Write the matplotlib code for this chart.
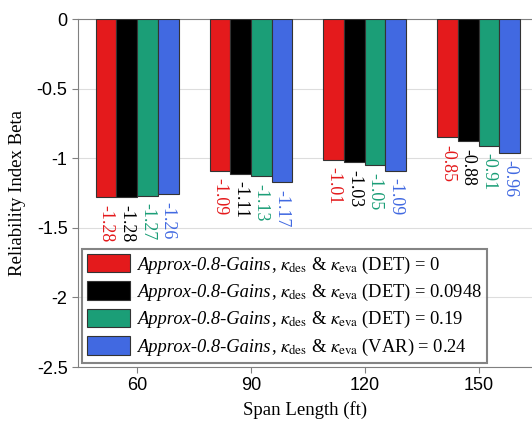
import matplotlib
matplotlib.use("Agg")
import matplotlib.pyplot as plt
from matplotlib.offsetbox import TextArea, HPacker
import numpy as np

plt.rcParams['font.family'] = ['Liberation Serif', 'DejaVu Serif']
plt.rcParams['mathtext.fontset'] = 'stix'

spans = ["60", "90", "120", "150"]
method = "Approx-0.8-Gains"
kappas = r"$\kappa_{\rm des}$ & $\kappa_{\rm eva}$"
series_labels = [
    f", {kappas} (DET) = 0",
    f", {kappas} (DET) = 0.0948",
    f", {kappas} (DET) = 0.19",
    f", {kappas} (VAR) = 0.24",
]
beta_det_0 = [-1.28, -1.09, -1.01, -0.85]
beta_det_0948 = [-1.28, -1.11, -1.03, -0.88]
beta_det_019 = [-1.27, -1.13, -1.05, -0.91]
beta_var_024 = [-1.26, -1.17, -1.09, -0.96]
series = [beta_det_0, beta_det_0948, beta_det_019, beta_var_024]
colors = ["#E41A1C", "#000000", "#1B9E77", "#4169E1"]

fig = plt.figure(figsize=(5.32, 4.28), dpi=100)
ax = fig.add_axes([78/532, 1 - 367/428, (532 - 78)/532, (367 - 19)/428])

x = np.arange(len(spans))
w = 0.182
for i, (vals, c, lab) in enumerate(zip(series, colors, series_labels)):
    pos = x + (i - 1.5) * w
    ax.bar(pos, vals, width=w, color=c, edgecolor="#333333", linewidth=0.8,
           label=lab, zorder=3)
    for p, v in zip(pos, vals):
        ax.annotate(f"{v:.2f}", (p, v), xytext=(0, -5.5), textcoords="offset points",
                    rotation=-90, ha="center", va="top", color=c, fontsize=13,
                    zorder=4)

ax.set_xlim(-0.52, 3.47)
ax.set_ylim(-2.5, 0)
ax.set_xticks(x)
ax.set_xticklabels(spans, family="Liberation Sans", fontsize=13)
ax.set_yticks([0, -0.5, -1, -1.5, -2, -2.5])
ax.set_yticklabels(["0", "-0.5", "-1", "-1.5", "-2", "-2.5"], family="Liberation Sans",
                   fontsize=13)
ax.yaxis.grid(True, color="#dddddd", linewidth=0.8, zorder=0)
ax.set_axisbelow(True)
for s in ["left", "top", "bottom"]:
    ax.spines[s].set_color("#808080")
ax.spines["right"].set_visible(False)
ax.tick_params(axis="both", colors="#808080", labelcolor="black", length=4)

ax.set_xlabel("Span Length (ft)", fontsize=13.5, labelpad=5)
ax.set_ylabel("Reliability Index Beta", fontsize=13.5, labelpad=8)

leg_fs = 13.3
leg = ax.legend(loc="lower left", bbox_to_anchor=(0.0, 0.0), fontsize=leg_fs,
                frameon=True, fancybox=False, edgecolor="#666666",
                handlelength=2.3, handleheight=1.15, borderpad=0.3,
                labelspacing=0.32, handletextpad=0.4, borderaxespad=0.2)
leg.get_frame().set_linewidth(1.5)

# Prefix each legend entry with the italic method name.
for column in leg._legend_handle_box.get_children():
    for row in column.get_children():
        handle_box, text_box = row.get_children()
        name_box = TextArea(method, textprops=dict(fontsize=leg_fs, style="italic"))
        combined = HPacker(children=[name_box, text_box], sep=0, pad=0,
                           align="baseline")
        combined.set_figure(fig)
        row._children[1] = combined

fig.savefig("out.png", dpi=100)
